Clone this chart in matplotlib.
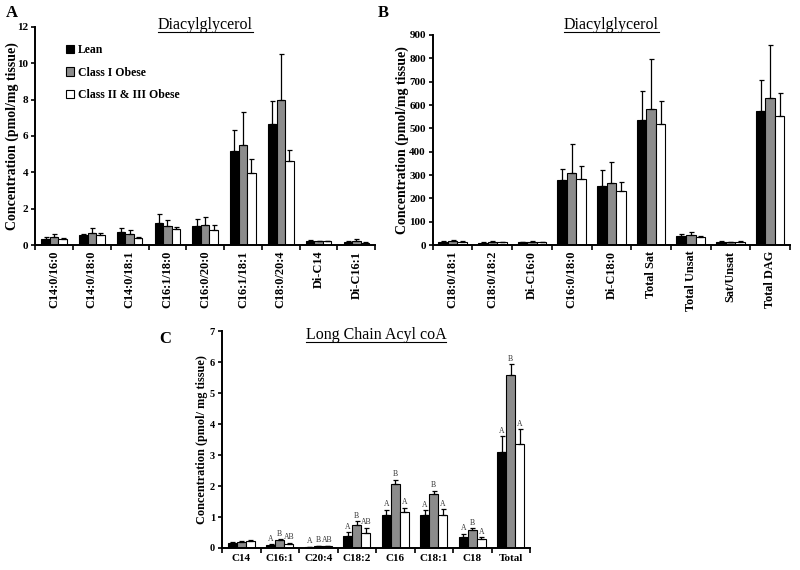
import matplotlib
matplotlib.use("Agg")
import matplotlib.pyplot as plt
from matplotlib.patches import Patch
from matplotlib.lines import Line2D
import numpy as np

plt.rcParams['font.family'] = ['Liberation Serif', 'DejaVu Serif']

groups = ['Lean', 'Class I Obese', 'Class II & III Obese']
colors = ['#000000', '#8c8c8c', '#ffffff']

a_cats = ['C14:0/16:0', 'C14:0/18:0', 'C14:0/18:1', 'C16:1/18:0', 'C16:0/20:0',
          'C16:1/18:1', 'C18:0/20:4', 'Di-C14', 'Di-C16:1']
a_lean = [0.36, 0.55, 0.74, 1.24, 1.06, 5.19, 6.67, 0.22, 0.17]
a_lean_err = [0.09, 0.05, 0.22, 0.46, 0.37, 1.16, 1.25, 0.04, 0.05]
a_ob1 = [0.42, 0.68, 0.63, 1.04, 1.10, 5.52, 8.00, 0.20, 0.25]
a_ob1_err = [0.17, 0.28, 0.22, 0.33, 0.44, 1.78, 2.50, 0.04, 0.08]
a_ob2 = [0.31, 0.56, 0.39, 0.89, 0.85, 3.94, 4.64, 0.20, 0.13]
a_ob2_err = [0.06, 0.09, 0.05, 0.13, 0.25, 0.79, 0.56, 0.04, 0.04]

b_cats = ['C18:0/18:1', 'C18:0/18:2', 'Di-C16:0', 'C16:0/18:0', 'Di-C18:0',
          'Total Sat', 'Total Unsat', 'Sat/Unsat', 'Total DAG']
b_lean = [14, 11, 12, 279, 253, 536, 40, 13, 574]
b_lean_err = [4, 3, 3, 47, 68, 125, 6, 3, 132]
b_ob1 = [16, 13, 14, 310, 264, 583, 42, 12, 629]
b_ob1_err = [4, 5, 5, 121, 90, 215, 16, 2, 227]
b_ob2 = [13, 12, 12, 283, 230, 517, 33, 15, 553]
b_ob2_err = [3, 3, 3, 56, 41, 99, 5, 3, 98]

c_cats = ['C14', 'C16:1', 'C20:4', 'C18:2', 'C16', 'C18:1', 'C18', 'Total']
c_lean = [0.15, 0.10, 0.03, 0.39, 1.08, 1.05, 0.37, 3.10]
c_lean_err = [0.03, 0.02, 0.01, 0.13, 0.16, 0.17, 0.09, 0.50]
c_ob1 = [0.20, 0.26, 0.06, 0.75, 2.05, 1.74, 0.59, 5.60]
c_ob1_err = [0.02, 0.03, 0.01, 0.11, 0.15, 0.11, 0.04, 0.34]
c_ob2 = [0.22, 0.14, 0.06, 0.48, 1.16, 1.08, 0.30, 3.37]
c_ob2_err = [0.03, 0.03, 0.01, 0.17, 0.14, 0.18, 0.04, 0.47]
c_lean_sig = ['', 'A', 'A', 'A', 'A', 'A', 'A', 'A']
c_ob1_sig = ['', 'B', 'B', 'B', 'B', 'B', 'B', 'B']
c_ob2_sig = ['', 'AB', 'AB', 'AB', 'A', 'A', 'A', 'A']

fig = plt.figure(figsize=(8, 5.7), dpi=100)

axA = fig.add_axes([0.044, 0.570, 0.425, 0.383])
axB = fig.add_axes([0.541, 0.570, 0.4465, 0.3686])
axC = fig.add_axes([0.2775, 0.0386, 0.385, 0.3804])


def draw_panel(ax, cats, series, errs, width, ylim, yticks, rot, xfs, yfs, sigs=None):
    n = len(cats)
    x = np.arange(n)
    for i, (vals, err) in enumerate(zip(series, errs)):
        pos = x + (i - 1) * width
        ax.bar(pos, vals, width, color=colors[i], edgecolor='black', linewidth=0.8, zorder=2)
        ax.errorbar(pos, vals, yerr=[np.zeros(n), err], fmt='none', ecolor='black',
                    elinewidth=0.9, capsize=1.8, capthick=0.9, zorder=3)
        if sigs is not None:
            for p, v, e, s in zip(pos, vals, err, sigs[i]):
                if s:
                    ax.annotate(s, (p, v + e), xytext=(0, 1), textcoords='offset points',
                                ha='center', va='bottom', fontsize=5.5, color='#333333')
    ax.set_xlim(-0.5, n - 0.5)
    ax.set_ylim(*ylim)
    ax.set_yticks(yticks)
    ax.set_yticklabels([str(t) for t in yticks], fontsize=yfs, fontweight='bold')
    ax.set_xticks(np.arange(n + 1) - 0.5)
    ax.set_xticklabels([])
    ax.set_xticks(x, minor=True)
    ax.set_xticklabels(cats, minor=True, rotation=rot, fontsize=xfs, fontweight='bold',
                       va='top', ha='center')
    ax.tick_params(axis='x', which='major', direction='out', length=3.5, width=1.2)
    ax.tick_params(axis='x', which='minor', length=0, pad=4)
    ax.tick_params(axis='y', direction='out', length=3, width=1.2, pad=2)
    for s in ['top', 'right']:
        ax.spines[s].set_visible(False)
    for s in ['left', 'bottom']:
        ax.spines[s].set_linewidth(1.4)


draw_panel(axA, a_cats, [a_lean, a_ob1, a_ob2], [a_lean_err, a_ob1_err, a_ob2_err],
           0.225, (0, 12), list(range(0, 13, 2)), 90, 8.8, 8)
draw_panel(axB, b_cats, [b_lean, b_ob1, b_ob2], [b_lean_err, b_ob1_err, b_ob2_err],
           0.24, (0, 900), list(range(0, 901, 100)), 90, 8.8, 8)
draw_panel(axC, c_cats, [c_lean, c_ob1, c_ob2], [c_lean_err, c_ob1_err, c_ob2_err],
           0.235, (0, 7), list(range(0, 8)), 0, 8, 7.5,
           sigs=[c_lean_sig, c_ob1_sig, c_ob2_sig])

axA.set_ylabel('Concentration (pmol/mg tissue)', fontsize=10, fontweight='bold')
axB.set_ylabel('Concentration (pmol/mg tissue)', fontsize=10, fontweight='bold')
axC.set_ylabel('Concentration (pmol/ mg tissue)', fontsize=8.8, fontweight='bold')
axA.yaxis.set_label_coords(-0.048, 0.5)
axB.yaxis.set_label_coords(-0.066, 0.5)
axC.yaxis.set_label_coords(-0.047, 0.5)

handles = [Patch(facecolor=c, edgecolor='black', linewidth=0.8) for c in colors]
axA.legend(handles, groups, loc='upper left', bbox_to_anchor=(0.06, 0.97), frameon=False,
           prop={'weight': 'bold', 'size': 8.5}, handlelength=0.7, handleheight=0.7,
           handletextpad=0.3, labelspacing=0.9)

# panel letters
fig.text(12 / 800, 1 - 13 / 570, 'A', fontsize=12, fontweight='bold', ha='center', va='center')
fig.text(383 / 800, 1 - 13 / 570, 'B', fontsize=12, fontweight='bold', ha='center', va='center')
fig.text(165 / 800, 1 - 339 / 570, 'C', fontsize=12, fontweight='bold', ha='center', va='center')

# underlined titles
titles = [
    (axA, 'Diacylglycerol', 1 - 25 / 570),
    (axB, 'Diacylglycerol', 1 - 25 / 570),
    (axC, 'Long Chain Acyl coA', 1 - 335 / 570),
]
fig.canvas.draw()
renderer = fig.canvas.get_renderer()
for ax, t, y in titles:
    pos = ax.get_position()
    xc = (pos.x0 + pos.x1) / 2
    txt = fig.text(xc, y, t, fontsize=11.5, ha='center', va='center')
    bb = txt.get_window_extent(renderer=renderer).transformed(fig.transFigure.inverted())
    fig.add_artist(Line2D([bb.x0, bb.x1], [bb.y0 + 0.002, bb.y0 + 0.002],
                          transform=fig.transFigure, color='black', linewidth=0.8))

fig.savefig('out.png', dpi=100)
